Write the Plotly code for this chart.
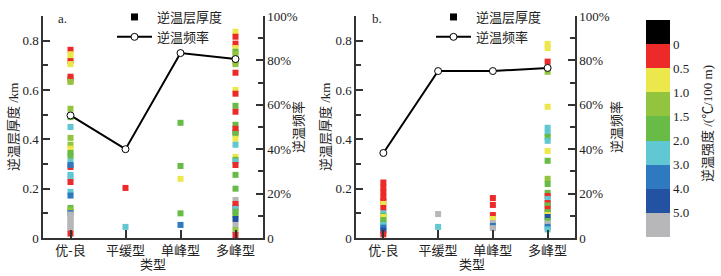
import plotly.graph_objects as go
from plotly.subplots import make_subplots

# ---------------- data ----------------
categories = ["优-良", "平缓型", "单峰型", "多峰型"]

# inversion frequency (%)
freq_a = [55.2, 40.0, 83.3, 80.6]
freq_b = [38.3, 75.2, 75.2, 76.6]

# intensity class codes (colour-bar bins, top to bottom):
# 0: <0, 1: 0-0.5, 2: 0.5-1.0, 3: 1.0-1.5, 4: 1.5-2.0, 5: 2.0-3.0, 6: 3.0-4.0, 7: 4.0-5.0, 8: >5.0
bin_colors = ["#000000", "#ec2a2a", "#ece84b", "#93c43f", "#68bb47",
              "#60c7d3", "#2e79bf", "#2352a2", "#b7b7b9"]
bin_edge_labels = ["0", "0.5", "1.0", "1.5", "2.0", "3.0", "4.0", "5.0"]

# panel a: inversion layer thickness (km) and intensity class per category
a_yl_thk = [0.763, 0.745, 0.73, 0.717, 0.705, 0.654, 0.643, 0.633, 0.524, 0.49, 0.45,
            0.406, 0.378, 0.362, 0.345, 0.333, 0.288, 0.309, 0.296, 0.256, 0.248, 0.227,
            0.187, 0.172, 0.122, 0.112, 0.101, 0.095, 0.085, 0.075, 0.065, 0.055, 0.045,
            0.037, 0.018]
a_yl_cls = [1, 2, 2, 1, 2, 1, 1, 3, 3, 4, 5,
            3, 3, 2, 4, 4, 1, 5, 6, 5, 5, 1,
            5, 6, 4, 3, 6, 8, 8, 8, 8, 8, 8,
            8, 1]
a_ph_thk = [0.203, 0.045]
a_ph_cls = [1, 5]
a_sp_thk = [0.467, 0.292, 0.24, 0.10, 0.053]
a_sp_cls = [4, 4, 2, 4, 6]
a_mp_thk = [0.836, 0.816, 0.788, 0.77, 0.755, 0.745, 0.715, 0.705, 0.67, 0.60, 0.585,
            0.536, 0.512, 0.459, 0.443, 0.43, 0.422, 0.402, 0.378, 0.329, 0.317, 0.31,
            0.296, 0.256, 0.2, 0.154, 0.138, 0.125, 0.118, 0.106, 0.093, 0.077, 0.053,
            0.032, 0.012]
a_mp_cls = [2, 1, 1, 2, 4, 3, 4, 3, 1, 2, 1,
            4, 1, 4, 1, 1, 4, 2, 5, 2, 4, 5,
            1, 4, 4, 8, 1, 1, 5, 4, 4, 7, 8,
            3, 1]

# panel b
b_yl_thk = [0.225, 0.205, 0.185, 0.165, 0.15, 0.138, 0.122, 0.10, 0.09, 0.085, 0.073,
            0.062, 0.053, 0.042, 0.03, 0.015]
b_yl_cls = [1, 1, 1, 1, 1, 2, 1, 5, 4, 2, 4,
            4, 5, 6, 7, 1]
b_ph_thk = [0.097, 0.045]
b_ph_cls = [8, 5]
b_sp_thk = [0.162, 0.134, 0.093, 0.077, 0.061, 0.049, 0.04]
b_sp_cls = [1, 1, 1, 2, 8, 6, 8]
b_mp_thk = [0.787, 0.77, 0.715, 0.674, 0.532, 0.447, 0.426, 0.41, 0.394, 0.353, 0.313,
            0.24, 0.219, 0.183, 0.17, 0.158, 0.142, 0.132, 0.118, 0.105, 0.093, 0.085,
            0.069, 0.058, 0.045, 0.035]
b_mp_cls = [2, 2, 1, 3, 2, 5, 5, 4, 5, 2, 4,
            3, 4, 4, 1, 5, 1, 4, 1, 4, 2, 7,
            4, 8, 6, 5]

# ---------------- figure ----------------
W, H = 721, 276
MT, MB = 16, 38
PLOT_H = H - MT - MB
FONT = "Liberation Serif, Noto Sans CJK SC, serif"
AX = "#333333"
FS = 13


def px(x):
    return x / W


def py(y):
    return (H - MB - y) / PLOT_H


fig = make_subplots(rows=1, cols=2, specs=[[{"secondary_y": True}, {"secondary_y": True}]])

panels = [
    (1, "legend", freq_a,
     [(a_yl_thk, a_yl_cls), (a_ph_thk, a_ph_cls), (a_sp_thk, a_sp_cls), (a_mp_thk, a_mp_cls)]),
    (2, "legend2", freq_b,
     [(b_yl_thk, b_yl_cls), (b_ph_thk, b_ph_cls), (b_sp_thk, b_sp_cls), (b_mp_thk, b_mp_cls)]),
]

for col, leg, freq, cols_data in panels:
    xs, ys, cs = [], [], []
    for cat, (thk, cls) in zip(categories, cols_data):
        for t, c in zip(thk, cls):
            xs.append(cat)
            ys.append(t)
            cs.append(8.5 - c)
    fig.add_trace(go.Scatter(
        x=xs, y=ys, mode="markers", showlegend=False, hoverinfo="skip",
        marker=dict(symbol="square", size=6, color=cs, coloraxis="coloraxis",
                    line=dict(width=0)),
    ), row=1, col=col, secondary_y=False)
    # legend proxy for thickness
    fig.add_trace(go.Scatter(
        x=[None], y=[None], mode="markers", name="逆温层厚度", legend=leg,
        marker=dict(symbol="square", size=7, color="black"),
    ), row=1, col=col, secondary_y=False)
    fig.add_trace(go.Scatter(
        x=categories, y=freq, mode="lines+markers", name="逆温频率", legend=leg,
        line=dict(color="black", width=2),
        marker=dict(symbol="circle", size=7, color="white", line=dict(color="black", width=1)),
    ), row=1, col=col, secondary_y=True)

cscale = []
rev = bin_colors[::-1]
n = len(rev)
for i, c in enumerate(rev):
    cscale.append([i / n, c])
    cscale.append([(i + 1) / n, c])

tick_common = dict(showgrid=False, zeroline=False, showline=True, linecolor=AX, linewidth=1.5,
                   ticks="inside", tickcolor=AX, tickwidth=1.5,
                   tickfont=dict(family=FONT, size=FS, color="#222"))

ya = dict(range=[0, 0.9], tickvals=[0, 0.2, 0.4, 0.6, 0.8],
          ticktext=["0", "0.2", "0.4", "0.6", "0.8"], ticklen=7,
          minor=dict(tickvals=[0.1, 0.3, 0.5, 0.7, 0.9], ticks="inside", ticklen=5,
                     tickcolor=AX, tickwidth=1.5), **tick_common)
yb = dict(range=[0, 100], tickvals=[0, 20, 40, 60, 80, 100],
          ticktext=["0", "20%", "40%", "60%", "80%", "100%"], ticklen=7,
          minor=dict(tickvals=[10, 30, 50, 70, 90], ticks="inside", ticklen=5,
                     tickcolor=AX, tickwidth=1.5), **tick_common)
xa = dict(type="category", categoryorder="array", categoryarray=categories,
          range=[-0.5, 3.5], ticklen=8, **tick_common)

legend_common = dict(xanchor="left", yanchor="top", bgcolor="rgba(0,0,0,0)",
                     font=dict(family=FONT, size=FS, color="#222"),
                     traceorder="normal", itemwidth=35)

fig.update_layout(
    width=W, height=H,
    margin=dict(l=0, r=0, t=MT, b=MB, autoexpand=False),
    paper_bgcolor="white", plot_bgcolor="white",
    font=dict(family=FONT, size=FS, color="#222"),
    xaxis=dict(domain=[px(43), px(263)], **xa),
    xaxis2=dict(domain=[px(356), px(575)], **xa),
    yaxis=ya, yaxis3=ya,
    yaxis2=yb, yaxis4=yb,
    coloraxis=dict(
        colorscale=cscale, cmin=0, cmax=9,
        colorbar=dict(
            x=px(646), xanchor="left", xpad=0, ypad=0,
            y=py(128.5), yanchor="middle",
            thickness=24, thicknessmode="pixels",
            len=217, lenmode="pixels",
            outlinewidth=0, ticks="",
            tickvals=[8, 7, 6, 5, 4, 3, 2, 1], ticktext=bin_edge_labels,
            tickfont=dict(family=FONT, size=FS, color="#222"),
        ),
    ),
    legend=dict(x=px(112), y=py(2), **legend_common),
    legend2=dict(x=px(431), y=py(2), **legend_common),
)

ann = [
    ("a.", 62, 18, 0, FS),
    ("b.", 377, 18, 0, FS),
    ("逆温层厚度 /km", 13, 127, -90, FS),
    ("逆温层厚度 /km", 325, 127, -90, FS),
    ("逆温频率", 298, 127, -90, FS),
    ("逆温频率", 616, 127, -90, FS),
    ("类型", 153, 264, 0, FS),
    ("类型", 472, 264, 0, FS),
    ("逆温强度 /(℃/100 m)", 707, 124, -90, FS),
]
for text, x, y, ang, size in ann:
    fig.add_annotation(text=text, x=px(x), y=py(y), xref="paper", yref="paper",
                       xanchor="center", yanchor="middle", textangle=ang, showarrow=False,
                       font=dict(family=FONT, size=size, color="#222"))

fig.write_html("out.html", config={"displayModeBar": False},
               post_script="document.body.style.margin='0';document.body.style.overflow='hidden';")
